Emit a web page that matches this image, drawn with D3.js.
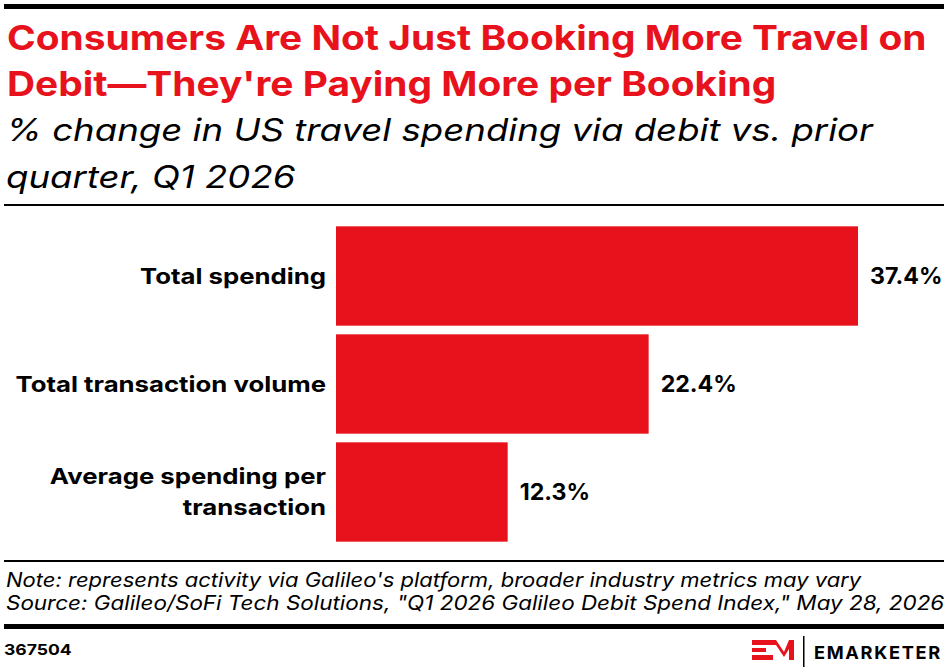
<!DOCTYPE html>
<html>
<head>
<meta charset="utf-8">
<script src="https://cdn.jsdelivr.net/npm/d3@7"></script>
<style>
  body { margin: 0; background: #fff; }
  svg { display: block; font-family: Inter, "Noto Sans", sans-serif; }
</style>
</head>
<body>
<div id="chart"></div>
<script>
// data
var categories = ["Total spending", "Total transaction volume", "Average spending per transaction"];
var categoryLines = [["Total spending"], ["Total transaction volume"], ["Average spending per", "transaction"]];
var values = [37.4, 22.4, 12.3];

var titleLines = ["Consumers Are Not Just Booking More Travel on", "Debit\u2014They're Paying More per Booking"];
var subtitleLines = ["% change in US travel spending via debit vs. prior", "quarter, Q1 2026"];
var noteText = "Note: represents activity via Galileo's platform, broader industry metrics may vary";
var sourceText = "Source: Galileo/SoFi Tech Solutions, \"Q1 2026 Galileo Debit Spend Index,\" May 28, 2026";
var chartId = "367504";

var svgWidth = 948;
var svgHeight = 672;
var red = "#e8121c";

var svg = d3.select("#chart")
    .append("svg")
    .attr("width", svgWidth)
    .attr("height", svgHeight);

// the reference face is wider than Inter, so widen the glyphs a bit
function widen(sel, factor) {
    sel.each(function() {
        var w = this.getComputedTextLength();
        d3.select(this)
            .attr("textLength", w * factor)
            .attr("lengthAdjust", "spacingAndGlyphs");
    });
}

// top rule
svg.append("rect").attr("x", 4).attr("y", 4).attr("width", 940).attr("height", 5).attr("fill", "#000");

// title
svg.append("g").selectAll("text")
    .data(titleLines)
    .enter()
    .append("text")
    .attr("x", 7)
    .attr("y", (d, i) => 50 + i * 46)
    .attr("fill", red)
    .attr("font-size", "34px")
    .attr("font-weight", 700)
    .text(d => d)
    .call(widen, 1.143);

// subtitle
svg.append("g").selectAll("text")
    .data(subtitleLines)
    .enter()
    .append("text")
    .attr("x", 6)
    .attr("y", (d, i) => 141 + i * 47)
    .attr("fill", "#000")
    .attr("font-size", "31px")
    .attr("font-style", "italic")
    .attr("font-weight", 400)
    .text(d => d)
    .call(widen, 1.18);

svg.append("rect").attr("x", 4).attr("y", 204).attr("width", 940).attr("height", 2).attr("fill", "#000");

// chart area
var margin = { top: 222, left: 336 };
var plotWidth = 522;

var xScale = d3.scaleLinear()
    .domain([0, d3.max(values)])
    .range([0, plotWidth]);

var yScale = d3.scaleBand()
    .domain(categories)
    .range([0, 324])
    .paddingInner(0.08)
    .paddingOuter(0.04);

var chartGroup = svg.append("g")
    .attr("transform", `translate(${margin.left}, ${margin.top})`);

chartGroup.selectAll("rect.bar")
    .data(values)
    .enter()
    .append("rect")
    .attr("class", "bar")
    .attr("x", 0)
    .attr("y", (d, i) => yScale(categories[i]))
    .attr("width", d => xScale(d))
    .attr("height", yScale.bandwidth())
    .attr("fill", red);

// value labels
chartGroup.selectAll("text.value")
    .data(values)
    .enter()
    .append("text")
    .attr("class", "value")
    .attr("x", d => xScale(d) + 12)
    .attr("y", (d, i) => yScale(categories[i]) + yScale.bandwidth() / 2)
    .attr("dy", "0.36em")
    .attr("font-size", "22.5px")
    .attr("font-weight", 700)
    .attr("fill", "#000")
    .text(d => d.toFixed(1) + "%")
    .call(widen, 1.03);

// category labels
var labels = chartGroup.selectAll("g.cat")
    .data(categoryLines)
    .enter()
    .append("g")
    .attr("class", "cat");

labels.each(function(lines, i) {
    var cy = yScale(categories[i]) + yScale.bandwidth() / 2;
    var lineH = 31;
    var startY = cy - (lines.length - 1) * lineH / 2;
    d3.select(this).selectAll("text")
        .data(lines)
        .enter()
        .append("text")
        .attr("x", -10)
        .attr("y", (d, j) => startY + j * lineH)
        .attr("dy", "0.36em")
        .attr("text-anchor", "end")
        .attr("font-size", "22px")
        .attr("font-weight", 700)
        .attr("fill", "#000")
        .text(d => d)
        .call(widen, 1.17);
});

// footer
svg.append("rect").attr("x", 4).attr("y", 560).attr("width", 940).attr("height", 2).attr("fill", "#000");

svg.append("text")
    .attr("x", 6).attr("y", 587)
    .attr("font-size", "20px").attr("font-style", "italic")
    .text(noteText)
    .call(widen, 1.10);

svg.append("text")
    .attr("x", 6).attr("y", 610)
    .attr("font-size", "20px").attr("font-style", "italic")
    .text(sourceText)
    .call(widen, 1.122);

svg.append("rect").attr("x", 4).attr("y", 624).attr("width", 940).attr("height", 5).attr("fill", "#000");

svg.append("text")
    .attr("x", 4).attr("y", 655)
    .attr("font-size", "15px").attr("font-weight", 700)
    .text(chartId)
    .call(widen, 1.17);

// logo
var logo = svg.append("g").attr("transform", "translate(752, 640)");
logo.append("rect").attr("x", 0).attr("y", 0).attr("width", 17).attr("height", 5).attr("fill", red);
logo.append("rect").attr("x", 0).attr("y", 8).attr("width", 14).attr("height", 4).attr("fill", red);
logo.append("rect").attr("x", 0).attr("y", 15).attr("width", 17).attr("height", 5).attr("fill", red);
logo.append("path")
    .attr("d", "M17,0 L24,0 L32,12 L37,0 L42,0 L42,20 L37,20 L37,9 L32,17 L24,5 L17,5 Z")
    .attr("fill", red);
logo.append("path")
    .attr("d", "M17,15 L21,15 L21,20 L17,20 Z")
    .attr("fill", red);
svg.append("rect").attr("x", 803).attr("y", 636).attr("width", 1.5).attr("height", 31).attr("fill", "#000");
svg.append("text")
    .attr("x", 814).attr("y", 659)
    .attr("font-size", "17.5px").attr("font-weight", 700)
    .attr("letter-spacing", "1.6px")
    .text("EMARKETER")
    .call(widen, 1.04);
</script>
</body>
</html>
